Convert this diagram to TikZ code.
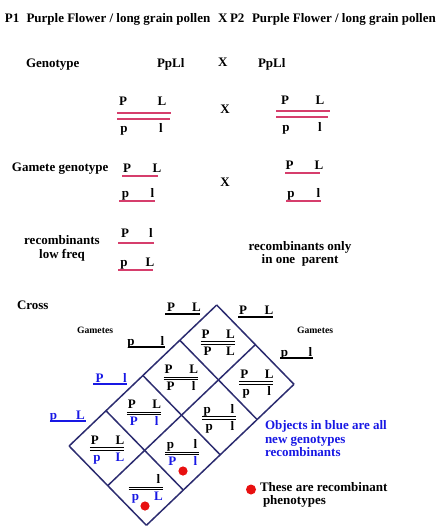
\documentclass[tikz,border=0pt]{standalone}
\usepackage{fontspec}
\setmainfont{Liberation Serif}
\definecolor{chrom}{RGB}{214,62,108}
\definecolor{navy}{RGB}{44,44,112}
\definecolor{bluetxt}{RGB}{24,24,228}
\definecolor{dotred}{RGB}{232,16,16}
\tikzset{
  every node/.style={inner sep=0pt, outer sep=0pt, font=\fontsize{13}{14}\selectfont\bfseries},
  lbl/.style={anchor=base west},
  gl/.style={anchor=base},
  smalltxt/.style={font=\fontsize{9.7}{11}\selectfont\bfseries},
  chromline/.style={draw=chrom, line width=1.5pt},
  lattice/.style={draw=navy, line width=1.5pt},
  dbl/.style={draw=black, line width=0.9pt},
  recdot/.style={fill=dotred, draw=none},
}
\newcommand\cellfill[7]{%
  \pgfmathsetmacro\cx{216.7+38.65*(#1+0.5)-36.9*(#2+0.5)}%
  \pgfmathsetmacro\cy{305+39.65*(#1+0.5)+35.25*(#2+0.5)}%
  \node[gl] (tl-#1-#2) at (\cx-12,\cy-4) {#3};
  \node[gl] (tr-#1-#2) at (\cx+13,\cy-4) {#4};
  \coordinate (la-#1-#2) at (\cx-17,\cy-0.6);
  \coordinate (lb-#1-#2) at (\cx+17,\cy-0.6);
  \coordinate (lc-#1-#2) at (\cx-17,\cy+1.9);
  \coordinate (ld-#1-#2) at (\cx+17,\cy+1.9);
  \draw[dbl] (la-#1-#2) -- (lb-#1-#2);
  \draw[dbl] (lc-#1-#2) -- (ld-#1-#2);
  \node[gl,text=#7] (bl-#1-#2) at (\cx-10,\cy+13) {#5};
  \node[gl,text=#7] (br-#1-#2) at (\cx+13,\cy+13) {#6};
}
\begin{document}
\begin{tikzpicture}[x=1pt,y=-1pt]
\useasboundingbox (0,0) rectangle (442,530);

% header
\node[lbl] (h1) at (5,23) {P1};
\node[lbl] (h2) at (26.5,23) {Purple Flower / long grain pollen};
\node[lbl] (hx) at (218,23) {X};
\node[lbl] (h3) at (230,23) {P2};
\node[lbl] (h4) at (252,23) {Purple Flower / long grain pollen};

% genotype row
\node[lbl] (geno) at (26,67) {Genotype};
\node[lbl] (g1) at (157,67) {PpLl};
\node[lbl] (gx) at (218,66) {X};
\node[lbl] (g2) at (258,67) {PpLl};

% parental chromosome pairs
\node[gl] (a1) at (123,105.5) {P};
\node[gl] (a2) at (162,105.5) {L};
\coordinate (a5) at (117,113); \coordinate (a6) at (171,113);
\coordinate (a7) at (117,119); \coordinate (a8) at (169.5,119);
\draw[chromline] (a5) -- (a6);
\draw[chromline] (a7) -- (a8);
\node[gl] (a3) at (124,132) {p};
\node[gl] (a4) at (161,132) {l};

\node (px) at (225,109) {X};

\node[gl] (b1) at (285,104) {P};
\node[gl] (b2) at (320,104) {L};
\coordinate (b5) at (276,111); \coordinate (b6) at (330,111);
\coordinate (b7) at (276,117); \coordinate (b8) at (328,117);
\draw[chromline] (b5) -- (b6);
\draw[chromline] (b7) -- (b8);
\node[gl] (b3) at (286,131.5) {p};
\node[gl] (b4) at (320,131.5) {l};

% gamete genotype
\node[lbl] (gg) at (12,171) {Gamete genotype};
\node (gx2) at (225,182) {X};
\node[anchor=base] (rec1) at (62,244) {recombinants};
\node[anchor=base] (rec2) at (62,258) {low freq};
\node[anchor=base] (ro1) at (300,250) {recombinants only};
\node[anchor=base] (ro2) at (300,263) {in one \ parent};

\foreach \n/\tc/\lc/\lw/\la/\xa/\lb/\xb/\yb/\ly/\lx/\rx in {
  gA/black/chrom/1.5/P/127/L/157/172/176/122/158,
  gB/black/chrom/1.5/p/125.5/l/152.5/197/201/119/155,
  gC/black/chrom/1.5/P/289.5/L/319/169/173/285/320,
  gD/black/chrom/1.5/p/291/l/318.5/197/201/286/321,
  gE/black/chrom/1.5/P/125/l/151/237/243/118/154,
  gF/black/chrom/1.5/p/124/L/150/266.5/270/118/153,
  xA/black/black/1.2/P/171/L/196.5/311/314/165/200,
  xB/black/black/1.2/P/243/L/269/314/317/238/273,
  xC/black/black/1.2/p/131/l/162.5/345.5/347/128/165,
  xD/black/black/1.2/p/284.5/l/310.5/356/358/280/313,
  xE/bluetxt/bluetxt/1.2/P/99.5/l/125/382/384/93/127,
  xF/bluetxt/bluetxt/1.2/p/53.5/L/80.5/419/421/50/86}{
  \node[gl,text=\tc] (\n-1) at (\xa,\yb) {\la};
  \node[gl,text=\tc] (\n-2) at (\xb,\yb) {\lb};
  \coordinate (\n-s) at (\lx,\ly);
  \coordinate (\n-e) at (\rx,\ly);
  \draw[draw=\lc, line width=\lw pt] (\n-s) -- (\n-e);
}

% cross
\node[lbl] (cross) at (17,309) {Cross};
\node[lbl,smalltxt] (gamL) at (77,333) {Gametes};
\node[lbl,smalltxt] (gamR) at (297,333) {Gametes};

% lattice
\foreach \i in {0,1,2}{
  \foreach \j in {0,...,4}{
    \coordinate (v-\i-\j) at ({216.7+38.65*\i-36.9*\j},{305+39.65*\i+35.25*\j});
  }
}
\foreach \i in {0,1,2}{ \draw[lattice] (v-\i-0) -- (v-\i-4); }
\foreach \j in {0,...,4}{ \draw[lattice] (v-0-\j) -- (v-2-\j); }

\cellfill{0}{0}{P}{L}{P}{L}{black}
\cellfill{1}{0}{P}{L}{p}{l}{black}
\cellfill{0}{1}{P}{L}{P}{l}{black}
\cellfill{1}{1}{p}{l}{p}{l}{black}
\cellfill{0}{2}{P}{L}{P}{l}{bluetxt}
\cellfill{1}{2}{p}{l}{P}{l}{bluetxt}
\cellfill{0}{3}{P}{L}{p}{L}{bluetxt}
\cellfill{1}{3}{}{l}{p}{L}{bluetxt}

\fill[recdot] (183,471) circle (4.6);
\fill[recdot] (145,506) circle (4.6);

% legend
\node[lbl,text=bluetxt] (lg1) at (265,429) {Objects in blue are all};
\node[lbl,text=bluetxt] (lg2) at (265,443) {new genotypes};
\node[lbl,text=bluetxt] (lg3) at (265,456.5) {recombinants};
\fill[recdot] (251,489.5) circle (5);
\node[lbl] (lg4) at (260,491.5) {These are recombinant};
\node[lbl] (lg5) at (263,504.5) {phenotypes};
\end{tikzpicture}
\end{document}
